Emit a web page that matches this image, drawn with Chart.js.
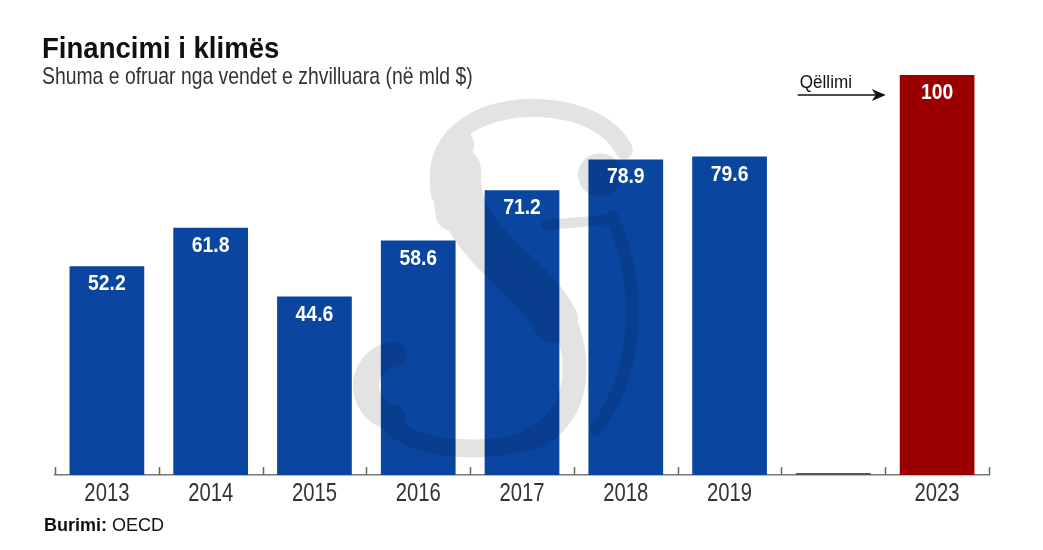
<!DOCTYPE html>
<html>
<head>
<meta charset="utf-8">
<script src="https://cdn.jsdelivr.net/npm/chart.js@4/dist/chart.umd.min.js"></script>
<style>
  html, body { margin: 0; padding: 0; background: #fff; }
  #wrap { position: relative; width: 1043px; height: 550px; overflow: hidden; background: #fff; }
  #c { position: absolute; left: 0; top: 0; }
  .t { position: absolute; white-space: nowrap; line-height: 1; transform-origin: left top; }
  #title { left: 42px; top: 31.5px; font: bold 29px "Liberation Sans", Arial, sans-serif; color: #111; transform: scaleX(0.95); }
  #sub { left: 42px; top: 61.5px; font: 24px "Liberation Sans", Arial, sans-serif; color: #333; transform: scaleX(0.807); }
  #foot { left: 44px; top: 514.5px; font: 18px "Liberation Sans", Arial, sans-serif; color: #111; }
</style>
</head>
<body>
<div id="wrap">
  <canvas id="c" width="1043" height="550"></canvas>
  <div class="t" id="title">Financimi i klimës</div>
  <div class="t" id="sub">Shuma e ofruar nga vendet e zhvilluara (në mld $)</div>
  <div class="t" id="foot"><b>Burimi:</b> OECD</div>
</div>
<script>
// ---- data ----
const categories = ['2013', '2014', '2015', '2016', '2017', '2018', '2019', '', '2023'];
const values = [52.2, 61.8, 44.6, 58.6, 71.2, 78.9, 79.6, 0, 100];
const goalLabel = 'Qëllimi';
const goalCategory = '2023';

const BLUE = '#0a46a0';
const RED = '#9b0000';
const GAP = '#555555';
const FONT = '"Liberation Sans", Arial, sans-serif';

function narrowText(ctx, text, x, y, sx) {
  ctx.save();
  ctx.translate(x, y);
  ctx.scale(sx, 1);
  ctx.fillText(text, 0, 0);
  ctx.restore();
}

// decorative "Si" watermark, drawn once on an offscreen canvas
function makeWatermark(w, h) {
  const off = document.createElement('canvas');
  off.width = w; off.height = h;
  const g = off.getContext('2d');
  g.strokeStyle = '#000';
  g.fillStyle = '#000';
  g.lineCap = 'round';
  const stroke = (lw, fn) => { g.lineWidth = lw; g.beginPath(); fn(); g.stroke(); };
  // top hook
  stroke(18, () => { g.moveTo(440, 195); g.bezierCurveTo(428, 125, 495, 106, 540, 108); g.bezierCurveTo(582, 110, 612, 126, 624, 150); });
  stroke(32, () => { g.moveTo(452, 215); g.quadraticCurveTo(445, 175, 458, 145); });
  // thick spine
  stroke(46, () => { g.moveTo(458, 170); g.bezierCurveTo(452, 240, 530, 270, 555, 320); });
  // lower right bowl
  stroke(24, () => { g.moveTo(556, 305); g.bezierCurveTo(585, 352, 582, 418, 532, 438); });
  // bottom
  stroke(18, () => { g.moveTo(540, 437); g.bezierCurveTo(490, 455, 420, 452, 392, 426); });
  // lower-left curl
  stroke(26, () => { g.arc(398, 386, 32, -1.7, 1.75, true); });
  // i: dot, serif, stem
  g.beginPath(); g.arc(600, 175, 22, 0, Math.PI * 2); g.fill();
  stroke(10, () => { g.moveTo(546, 225); g.lineTo(604, 220); });
  stroke(13, () => { g.moveTo(612, 217); g.bezierCurveTo(642, 285, 640, 370, 596, 430); });
  return off;
}
let wm = null;

const overlay = {
  id: 'overlay',
  afterDatasetsDraw(chart) {
    const ctx = chart.ctx;
    const ca = chart.chartArea;
    const meta = chart.getDatasetMeta(0);
    const xs = chart.scales.x;

    // watermark
    if (!wm) wm = makeWatermark(chart.width, chart.height);
    ctx.save();
    ctx.globalAlpha = 0.11;
    ctx.drawImage(wm, 0, 0);
    ctx.restore();

    // tick marks at category boundaries
    ctx.save();
    ctx.strokeStyle = '#666';
    ctx.lineWidth = 1.5;
    const n = categories.length;
    const bounds = [ca.left];
    for (let i = 0; i < n - 1; i++) {
      bounds.push((xs.getPixelForValue(i) + xs.getPixelForValue(i + 1)) / 2);
    }
    bounds.push(ca.right);
    bounds.forEach(b => {
      ctx.beginPath();
      ctx.moveTo(Math.round(b) + 0.5, ca.bottom);
      ctx.lineTo(Math.round(b) + 0.5, ca.bottom - 8);
      ctx.stroke();
    });
    ctx.restore();

    // category labels (condensed)
    ctx.save();
    ctx.fillStyle = '#333';
    ctx.font = '25px ' + FONT;
    ctx.textAlign = 'center';
    ctx.textBaseline = 'alphabetic';
    categories.forEach((c, i) => {
      if (!c) return;
      narrowText(ctx, c, xs.getPixelForValue(i), ca.bottom + 26, 0.81);
    });
    ctx.restore();

    // value labels
    ctx.save();
    ctx.fillStyle = '#fff';
    ctx.font = 'bold 22px ' + FONT;
    ctx.textAlign = 'center';
    ctx.textBaseline = 'alphabetic';
    meta.data.forEach((bar, i) => {
      const v = values[i];
      if (!v) return;
      narrowText(ctx, String(v), bar.x, bar.y + 24, 0.88);
    });
    ctx.restore();

    // goal arrow
    const gi = categories.indexOf(goalCategory);
    const gb = meta.data[gi];
    const left = gb.x - gb.width / 2;
    const tipX = left - 14;
    const tailX = tipX - 88;
    const ay = gb.y + 20;
    ctx.save();
    ctx.strokeStyle = '#111';
    ctx.fillStyle = '#111';
    ctx.lineWidth = 1.5;
    ctx.beginPath();
    ctx.moveTo(tailX, ay);
    ctx.lineTo(tipX - 10, ay);
    ctx.stroke();
    ctx.beginPath();
    ctx.moveTo(tipX, ay);
    ctx.lineTo(tipX - 14, ay - 6);
    ctx.lineTo(tipX - 10, ay);
    ctx.lineTo(tipX - 14, ay + 6);
    ctx.closePath();
    ctx.fill();
    ctx.font = '18px ' + FONT;
    ctx.textAlign = 'left';
    narrowText(ctx, goalLabel, tailX + 2, gb.y + 13, 0.95);
    ctx.restore();
  }
};

new Chart(document.getElementById('c'), {
  type: 'bar',
  data: {
    labels: categories,
    datasets: [{
      data: values,
      backgroundColor: categories.map((c, i) => c === goalCategory ? RED : (values[i] === 0 ? GAP : BLUE)),
      borderWidth: 0,
      barPercentage: 0.9,
      categoryPercentage: 0.8,
      minBarLength: 2
    }]
  },
  options: {
    responsive: false,
    animation: false,
    devicePixelRatio: 1,
    layout: { padding: { left: 55, right: 54, top: 75, bottom: 75 } },
    plugins: { legend: { display: false }, tooltip: { enabled: false } },
    scales: {
      x: {
        offset: true,
        grid: { display: false, drawTicks: false },
        border: { display: true, color: '#777', width: 1.5 },
        ticks: { display: false }
      },
      y: {
        display: false,
        min: 0,
        max: 100
      }
    }
  },
  plugins: [overlay]
});
</script>
</body>
</html>
